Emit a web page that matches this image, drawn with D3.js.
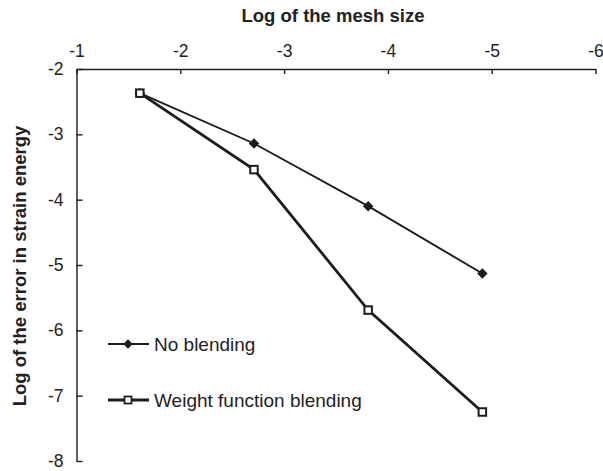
<!DOCTYPE html>
<html>
<head>
<meta charset="utf-8">
<script src="https://cdn.jsdelivr.net/npm/d3@7"></script>
<style>
  html, body { margin: 0; padding: 0; background: #fff; }
  svg { display: block; font-family: "Liberation Sans", Arial, sans-serif; }
</style>
</head>
<body>
<svg id="chart" width="603" height="471"></svg>
<script>
// ---- data ----
const meshLog = [-1.61, -2.71, -3.81, -4.91];
const noBlending = [-2.37, -3.14, -4.10, -5.13];
const weightBlending = [-2.37, -3.54, -5.69, -7.25];
const xTicks = [-1, -2, -3, -4, -5, -6];
const yTicks = [-2, -3, -4, -5, -6, -7, -8];
const seriesNames = ["No blending", "Weight function blending"];
const xTitle = "Log of the mesh size";
const yTitle = "Log of the error in strain energy";

// ---- layout ----
const svg = d3.select("#chart");
const x = d3.scaleLinear().domain([-1, -6]).range([76.5, 595.5]);
const y = d3.scaleLinear().domain([-2, -8]).range([69, 461]);
const ink = "#1c1c1c";
const fmt = d => String(d); // plain hyphen-minus as in the reference

// x axis (top), ticks pointing into the plot
const xAxis = d3.axisTop(x).tickValues(xTicks).tickSizeInner(-5).tickSizeOuter(0)
  .tickPadding(12).tickFormat(fmt);
const gx = svg.append("g").attr("transform", `translate(0,${y(-2)})`).call(xAxis);
gx.attr("font-size", null).attr("font-family", null);
gx.select(".domain").attr("stroke", ink).attr("stroke-width", 1.4);
gx.selectAll(".tick line").attr("stroke", ink).attr("stroke-width", 1.4);
gx.selectAll(".tick text").attr("font-size", 17.5).attr("fill", "#222");

// y axis (left), ticks pointing into the plot
const yAxis = d3.axisLeft(y).tickValues(yTicks).tickSizeInner(-6).tickSizeOuter(0)
  .tickPadding(13).tickFormat(fmt);
const gy = svg.append("g").attr("transform", `translate(${x(-1)},0)`).call(yAxis);
gy.attr("font-size", null).attr("font-family", null);
gy.select(".domain").attr("stroke", ink).attr("stroke-width", 1.4);
gy.selectAll(".tick line").attr("stroke", ink).attr("stroke-width", 1.4);
gy.selectAll(".tick text").attr("font-size", 17.5).attr("fill", "#222");

// titles
svg.append("text").attr("x", 333).attr("y", 22).attr("text-anchor", "middle")
  .attr("font-size", 18.5).attr("font-weight", "bold").attr("fill", "#222").text(xTitle);
svg.append("text").attr("transform", `translate(26,266) rotate(-90)`).attr("text-anchor", "middle")
  .attr("font-size", 18.5).attr("font-weight", "bold").attr("fill", "#222").text(yTitle);

// series
const nb = meshLog.map((m, i) => ({ x: m, y: noBlending[i] }));
const wb = meshLog.map((m, i) => ({ x: m, y: weightBlending[i] }));
const line = d3.line().x(d => x(d.x)).y(d => y(d.y));

svg.append("path").datum(nb).attr("d", line).attr("fill", "none")
  .attr("stroke", ink).attr("stroke-width", 1.9);
svg.append("path").datum(wb).attr("d", line).attr("fill", "none")
  .attr("stroke", ink).attr("stroke-width", 2.8);

const diamond = d3.symbol().type(d3.symbolDiamond2).size(70);
svg.selectAll(".dia").data(nb).enter().append("path")
  .attr("transform", d => `translate(${x(d.x)},${y(d.y)})`)
  .attr("d", diamond).attr("fill", ink);

const sq = 7.5;
svg.selectAll(".sq").data(wb).enter().append("rect")
  .attr("x", d => x(d.x) - sq / 2).attr("y", d => y(d.y) - sq / 2)
  .attr("width", sq).attr("height", sq)
  .attr("fill", "#fff").attr("stroke", ink).attr("stroke-width", 2);

// legend
const legY = [344, 400];
const lg = svg.append("g");
seriesNames.forEach((name, i) => {
  lg.append("line").attr("x1", 108).attr("x2", 149).attr("y1", legY[i]).attr("y2", legY[i])
    .attr("stroke", ink).attr("stroke-width", i === 0 ? 1.9 : 2.8);
  if (i === 0) {
    lg.append("path").attr("transform", `translate(128,${legY[i]})`)
      .attr("d", d3.symbol().type(d3.symbolDiamond2).size(55)).attr("fill", ink);
  } else {
    lg.append("rect").attr("x", 128 - 3.5).attr("y", legY[i] - 3.5).attr("width", 7).attr("height", 7)
      .attr("fill", "#fff").attr("stroke", ink).attr("stroke-width", 1.8);
  }
  lg.append("text").attr("x", 154).attr("y", legY[i]).attr("dy", "0.35em")
    .attr("font-size", 19).attr("fill", "#222").text(name);
});
</script>
</body>
</html>
